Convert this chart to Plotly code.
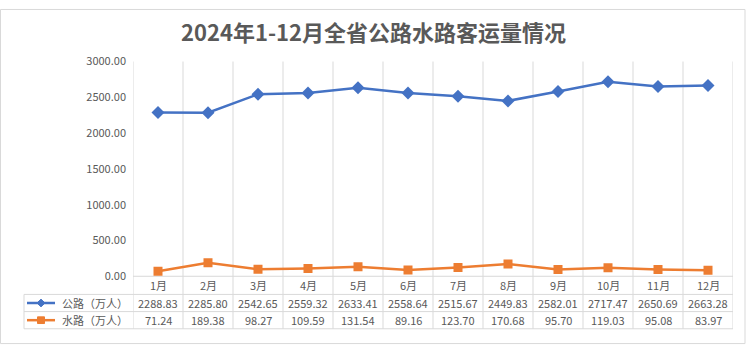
import plotly.graph_objects as go

W, H = 747, 352
months = ["1月", "2月", "3月", "4月", "5月", "6月", "7月", "8月", "9月", "10月", "11月", "12月"]
road = [2288.83, 2285.80, 2542.65, 2559.32, 2633.41, 2558.64, 2515.67, 2449.83, 2582.01, 2717.47, 2650.69, 2663.28]
water = [71.24, 189.38, 98.27, 109.59, 131.54, 89.16, 123.70, 170.68, 95.70, 119.03, 95.08, 83.97]
series_names = ["公路（万人）", "水路（万人）"]
y_ticks = [0, 500, 1000, 1500, 2000, 2500, 3000]
title = "2024年1-12月全省公路水路客运量情况"

BLUE = "#4472C4"
ORANGE = "#ED7D31"
GRID = "#D9D9D9"
TXT = "#595959"
FONT = "Noto Sans CJK SC, Microsoft YaHei, sans-serif"

def px(x):
    return x / W

def py(y):
    return 1 - y / H

L, R, T, B = 133, 733, 55, 280
rows = [280, 299, 317, 335]
TL = 24

idx = list(range(len(months)))
fig = go.Figure()
fig.add_trace(go.Scatter(x=idx, y=road, mode="lines+markers", name=series_names[0],
                         line=dict(color=BLUE, width=2.5),
                         marker=dict(symbol="diamond", size=10, color=BLUE)))
fig.add_trace(go.Scatter(x=idx, y=water, mode="lines+markers", name=series_names[1],
                         line=dict(color=ORANGE, width=2.5),
                         marker=dict(symbol="square", size=9, color=ORANGE)))

shapes = []
annotations = []
# outer border
shapes.append(dict(type="rect", xref="paper", yref="paper", x0=px(0.5), x1=px(W - 2), y0=py(H - 1.5), y1=py(0.5),
                   line=dict(color=GRID, width=1), layer="below"))
# vertical grid lines spanning plot + table
for i in range(len(months) + 1):
    shapes.append(dict(type="line", xref="x", yref="paper", x0=i - 0.5, x1=i - 0.5,
                       y0=py(rows[-1]), y1=py(T), line=dict(color=GRID, width=1), layer="below"))
# horizontal table lines
shapes.append(dict(type="line", xref="paper", yref="paper", x0=px(L), x1=px(R), y0=py(rows[0]), y1=py(rows[0]),
                   line=dict(color=GRID, width=1), layer="below"))
for r in rows[1:]:
    shapes.append(dict(type="line", xref="paper", yref="paper", x0=px(TL), x1=px(R), y0=py(r), y1=py(r),
                       line=dict(color=GRID, width=1), layer="below"))
shapes.append(dict(type="line", xref="paper", yref="paper", x0=px(TL), x1=px(TL), y0=py(rows[1]), y1=py(rows[3]),
                   line=dict(color=GRID, width=1), layer="below"))

# month labels
for i, m in enumerate(months):
    annotations.append(dict(x=i, y=py((rows[0] + rows[1]) / 2), xref="x", yref="paper", text=m,
                            showarrow=False, font=dict(size=11, color=TXT, family=FONT),
                            xanchor="center", yanchor="middle"))
# data rows
for ri, (vals, name, col, sym) in enumerate([(road, series_names[0], BLUE, "diamond"),
                                              (water, series_names[1], ORANGE, "square")]):
    yc = (rows[ri + 1] + rows[ri + 2]) / 2
    for i, v in enumerate(vals):
        annotations.append(dict(x=i, y=py(yc), xref="x", yref="paper", text=f"{v:.2f}",
                                showarrow=False, font=dict(size=11, color=TXT, family=FONT),
                                xanchor="center", yanchor="middle"))
    annotations.append(dict(x=px(60), y=py(yc), xref="paper", yref="paper", text=name,
                            showarrow=False, font=dict(size=11, color=TXT, family=FONT),
                            xanchor="left", yanchor="middle"))
    # legend key line
    shapes.append(dict(type="line", xref="paper", yref="paper", x0=px(27), x1=px(55), y0=py(yc), y1=py(yc),
                       line=dict(color=col, width=2.5)))
    cx, cy = 41, yc
    if sym == "diamond":
        s = 4
        path = f"M {px(cx - s)} {py(cy)} L {px(cx)} {py(cy - s)} L {px(cx + s)} {py(cy)} L {px(cx)} {py(cy + s)} Z"
    else:
        s = 3.5
        path = (f"M {px(cx - s)} {py(cy - s)} L {px(cx + s)} {py(cy - s)} L {px(cx + s)} {py(cy + s)} "
                f"L {px(cx - s)} {py(cy + s)} Z")
    shapes.append(dict(type="path", xref="paper", yref="paper", path=path,
                       fillcolor=col, line=dict(color=col, width=1)))

annotations.append(dict(x=px(373), y=py(23), xref="paper", yref="paper", text=f"<b>{title}</b>",
                        showarrow=False, font=dict(size=22, color=TXT, family=FONT),
                        xanchor="center", yanchor="middle"))

fig.update_layout(
    width=W, height=H,
    margin=dict(l=0, r=0, t=0, b=0),
    paper_bgcolor="white", plot_bgcolor="white",
    showlegend=False,
    xaxis=dict(domain=[px(L), px(R)], range=[-0.5, len(months) - 0.5], showgrid=False,
               showticklabels=False, zeroline=False, showline=False, ticks=""),
    yaxis=dict(domain=[py(B), py(T)], range=[0, 3000], tickvals=y_ticks,
               ticktext=[f"{v:.2f}" for v in y_ticks], showgrid=False, zeroline=False,
               showline=False, ticks="", tickfont=dict(size=11, color=TXT, family=FONT),
               ticklabelstandoff=6),
    shapes=shapes,
    annotations=annotations,
)

fig.write_html("out.html")
